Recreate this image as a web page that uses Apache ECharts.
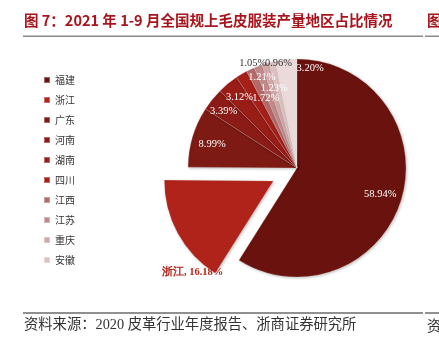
<!DOCTYPE html>
<html>
<head>
<meta charset="utf-8">
<script src="https://cdn.jsdelivr.net/npm/echarts@6/dist/echarts.min.js"></script>
<style>
html,body{margin:0;padding:0;background:#fff;}
#c{width:439px;height:345px;}
</style>
</head>
<body>
<div id="c"></div>
<script>
// ---- data ----
const categories = ['福建','浙江','广东','河南','湖南','四川','江西','江苏','重庆','安徽','其他'];
const shares = [58.94,16.18,8.99,3.39,3.12,1.72,1.23,1.21,1.05,0.96,3.20];
const legendNames = ['福建','浙江','广东','河南','湖南','四川','江西','江苏','重庆','安徽'];
const titleText = '图 7：2021 年 1-9 月全国规上毛皮服装产量地区占比情况';
const sourceText = '资料来源：2020 皮革行业年度报告、浙商证券研究所';

// ---- style ----
const colors = ['#6A130E','#B0231A','#7D1A14','#8A1B16','#981D17','#A61F19','#B56A6A','#C28A8A','#D2A8A8','#DEC2C2','#EBDADA'];
const labelColors = ['#fff','#B0231A','#fff','#fff','#fff','#fff','#fff','#fff','#333','#333','#fff'];
const labelAngleNudge = [1.3,-20,-0.8,-1.3,0.4,6.5,9.4,-0.3,-6.1,3.3,13.3];
const labelRadiusFrac = [0.80,1.12,0.81,0.85,0.84,0.70,0.76,0.89,1.04,0.98,0.92];
const CX = 297, CY = 168, R = 109, EXPLODE = 27;
const EXPLODED = 1;

const total = shares.reduce((a,b)=>a+b,0);
const mids = [];
let acc = 0;
shares.forEach(v => { mids.push((acc + v/2)/total*360); acc += v; });

function labelPos(i) {
  let cx = CX, cy = CY;
  const m = mids[i] * Math.PI / 180;
  if (i === EXPLODED) { cx += EXPLODE * Math.sin(m); cy -= EXPLODE * Math.cos(m); }
  const a = (mids[i] + labelAngleNudge[i]) * Math.PI / 180;
  const r = R * labelRadiusFrac[i];
  return { x: cx + r * Math.sin(a), y: cy - r * Math.cos(a), align: 'center', verticalAlign: 'middle' };
}

const pieData = categories.map((n,i) => {
  const d = { name: n, value: shares[i], itemStyle: { color: colors[i] },
    label: { color: labelColors[i], show: i !== EXPLODED } };
  if (i === EXPLODED) d.selected = true;
  return d;
});
// label-only copy (unselected) so the exploded slice's label can be placed
const labelData = categories.map((n,i) => ({
  name: n, value: shares[i],
  label: { show: i === EXPLODED, color: labelColors[i], fontWeight: 'bold' }
}));

const chart = echarts.init(document.getElementById('c'), null, {renderer:'canvas'});
chart.setOption({
  animation: false,
  backgroundColor: '#fff',
  legend: {
    data: legendNames,
    orient: 'vertical',
    left: 38, top: 69,
    itemWidth: 6, itemHeight: 6, itemGap: 8,
    icon: 'rect',
    selectedMode: false,
    textStyle: { fontSize: 10, color: '#333', lineHeight: 12, fontFamily: 'Noto Sans CJK SC' }
  },
  series: [{
    type: 'pie',
    center: [CX, CY],
    radius: [0, R],
    startAngle: 90,
    clockwise: true,
    selectedMode: 'single',
    selectedOffset: EXPLODE,
    avoidLabelOverlap: false,
    emphasis: { disabled: true },
    itemStyle: { borderColor: 'rgba(255,255,255,0.35)', borderWidth: 0.5,
      shadowBlur: 3, shadowColor: 'rgba(0,0,0,0.25)', shadowOffsetX: 1, shadowOffsetY: 1 },
    label: {
      show: true, position: 'inside',
      fontFamily: 'Liberation Serif', fontSize: 10.5,
      formatter: p => p.value.toFixed(2) + '%'
    },
    labelLine: { show: false },
    labelLayout: p => labelPos(p.dataIndex),
    data: pieData
  }, {
    type: 'pie',
    center: [CX, CY],
    radius: [0, R],
    startAngle: 90,
    clockwise: true,
    silent: true,
    selectedMode: false,
    avoidLabelOverlap: false,
    emphasis: { disabled: true },
    itemStyle: { color: 'rgba(0,0,0,0)', borderWidth: 0 },
    label: {
      position: 'inside',
      fontFamily: 'Liberation Serif', fontSize: 10.5,
      formatter: p => p.name + ', ' + p.value.toFixed(2) + '%'
    },
    labelLine: { show: false },
    labelLayout: p => labelPos(p.dataIndex),
    data: labelData
  }],
  graphic: [
    { type: 'text', left: 24, top: 13, style: { text: titleText, fill: '#A8141C', font: 'bold 14.5px "Noto Sans CJK SC"' } },
    { type: 'text', left: 427, top: 13, style: { text: '图', fill: '#A8141C', font: 'bold 14.5px "Noto Sans CJK SC"' } },
    { type: 'rect', shape: { x: 23, y: 35.5, width: 400, height: 1.5 }, style: { fill: '#8a8a8a' } },
    { type: 'rect', shape: { x: 425, y: 35.5, width: 14, height: 1.5 }, style: { fill: '#8a8a8a' } },
    { type: 'rect', shape: { x: 23, y: 312.5, width: 400, height: 1 }, style: { fill: '#222' } },
    { type: 'rect', shape: { x: 425, y: 312.5, width: 14, height: 1 }, style: { fill: '#222' } },
    { type: 'text', left: 24, top: 318, style: { text: sourceText, fill: '#333', font: '14.3px "Liberation Serif","Noto Sans CJK SC"' } },
    { type: 'text', left: 427, top: 318, style: { text: '资', fill: '#333', font: '14.3px "Noto Sans CJK SC"' } }
  ]
});
</script>
</body>
</html>
